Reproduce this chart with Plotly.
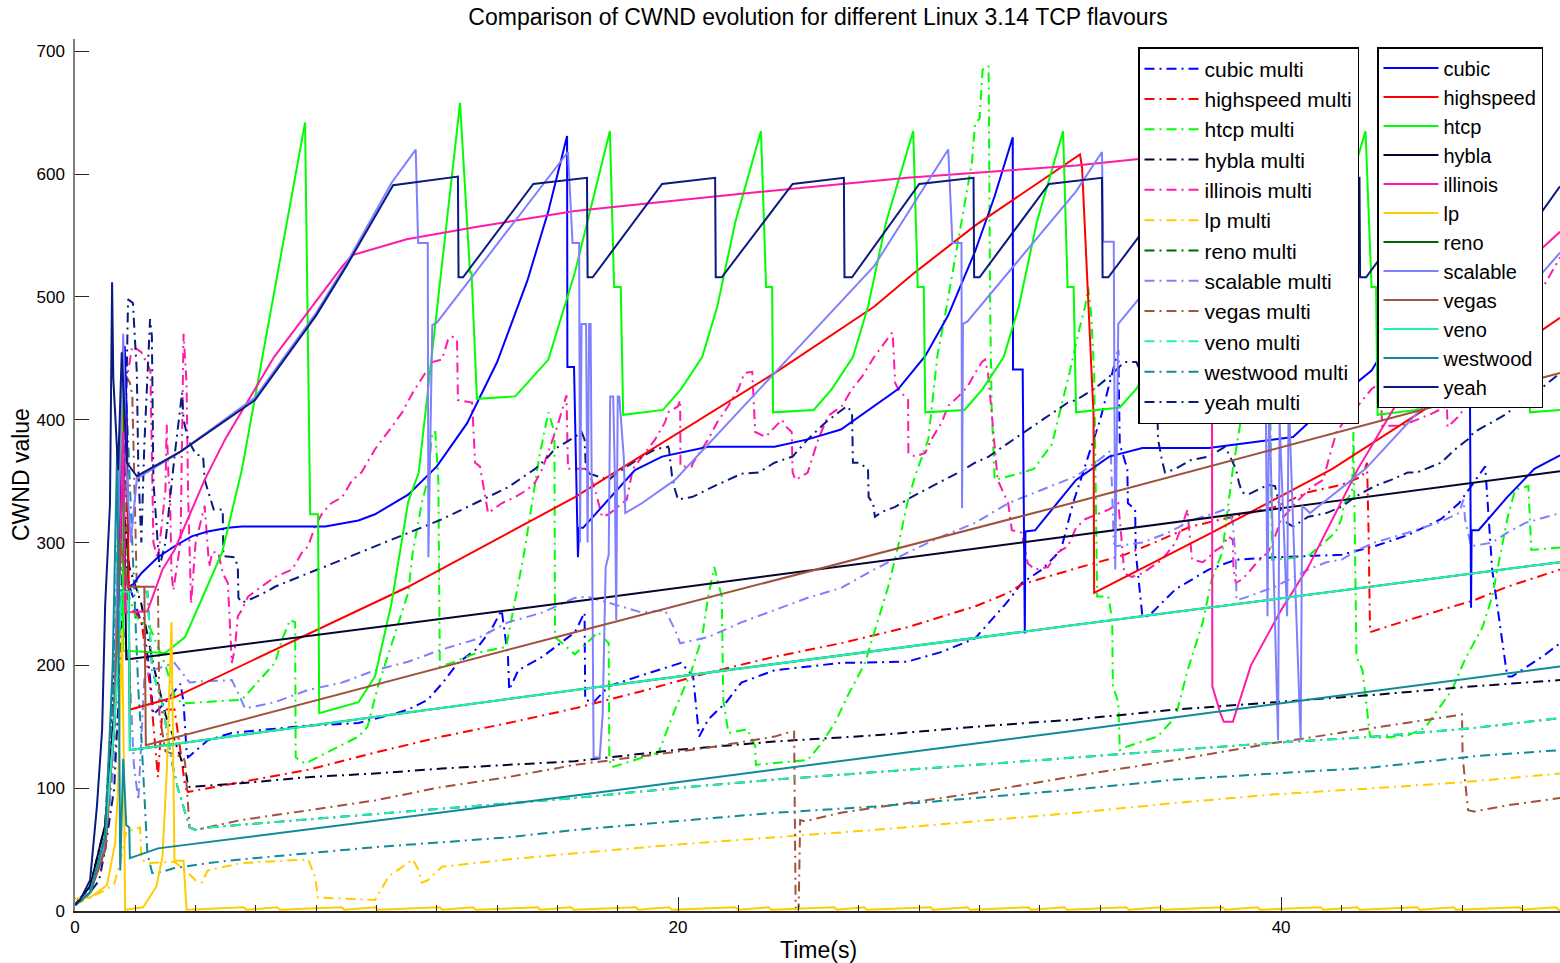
import plotly.graph_objects as go

NAMES = ["cubic", "highspeed", "htcp", "hybla", "illinois", "lp", "reno",
         "scalable", "vegas", "veno", "westwood", "yeah"]
COLORS = ["#0000FF", "#FF0000", "#00FF00", "#050530", "#FF1AAA", "#FFCC00",
          "#006400", "#8080FF", "#A0523C", "#20F0B8", "#108A9A", "#0A1A80"]

# ---------------- single-flow (solid) series: (time s, cwnd) ----------------
CUBIC = [(0,5),(0.5,15),(1.0,60),(1.3,160),(1.5,330),(1.65,460),(1.72,400),(1.77,264),(1.93,266),(2.2,275),
         (2.75,288),(3.3,297),(3.87,305),(4.4,309),(5.08,312),(5.53,313),(8.3,313),(9.4,318),(9.95,323),
         (11.05,339),(12.0,362),(13.0,397),(14.0,447),(15.0,513),(15.7,570),(16.32,631),(16.33,443),
         (16.55,443),(16.68,288),(16.72,312),(16.85,312),(18.57,359),(19.47,370),(21.0,378),(23.2,378),
         (24.3,384),(25.4,392),(26.5,411),(27.3,425),(28.2,452),(28.96,485),(29.85,537),(30.5,582),(31.1,630),
         (31.11,441),(31.43,441),(31.5,226),(31.52,309),(31.84,310),(33.2,351),(34.3,370),(35.4,377),(37.6,377),
         (40.4,386),(41.1,402),(43.0,440),(44.5,500),(45.5,565),(46.2,630),(46.21,441),(46.26,441),(46.3,247),
         (46.32,310),(46.55,310),(47.5,337),(48.4,360),(49.25,371)]
HIGHSPEED = [(0,5),(0.5,15),(1.0,50),(1.3,150),(1.5,300),(1.65,420),(1.75,330),(1.82,164),(3.3,174),(7.7,225),
             (11.05,264),(16.58,337),(23.2,438),(26.5,492),(27.86,520),(29.85,558),(33.2,614),(33.33,616),
             (33.4,605),(33.78,404),(33.8,259),(37.7,308),(41.7,360),(45.5,420),(49.25,483)]
HTCP = [(0,5),(0.5,15),(1.0,55),(1.3,150),(1.45,330),(1.55,434),(1.6,212),(2.99,210),(3.65,223),(4.88,292),
        (5.54,360),(7.63,642),(7.8,323),(8.06,323),(8.1,161),(9.4,170),(9.95,191),(10.5,251),(11.05,333),(11.4,357),
        (12.77,658),(13.1,520),(13.15,520),(13.33,417),(14.6,419),(15.7,449),(16.58,520),(17.74,635),(17.88,508),
        (18.1,508),(18.18,404),(19.5,408),(20.1,425),(20.8,451),(21.3,492),(21.9,561),(22.75,635),(22.92,508),
        (23.12,508),(23.15,406),(24.5,408),(25.1,425),(25.8,451),(26.3,492),(26.9,561),(27.8,635),(27.95,508),
        (28.15,508),(28.2,406),(29.5,408),(30.1,425),(30.8,451),(31.3,492),(31.9,561),(32.77,635),(32.92,508),
        (33.12,508),(33.2,406),(34.65,410),(35.2,425),(35.8,451),(36.3,492),(36.9,561),(37.8,635),(37.95,508),
        (38.15,508),(38.2,406),(39.5,408),(40.1,425),(40.8,451),(41.3,492),(41.9,561),(42.8,635),(43.0,508),
        (43.15,508),(43.2,404),(44.5,408),(45.1,425),(45.8,451),(46.3,492),(46.9,561),(47.9,635),(48.05,508),
        (48.2,508),(48.25,406),(49.25,408)]
HYBLA = [(0,5),(0.5,20),(1.0,70),(1.3,160),(1.5,300),(1.6,380),(1.7,205),(1.76,205),(16.58,252),(33.2,306),(49.25,358)]
ILLINOIS = [(0,5),(0.5,15),(1.0,55),(1.3,150),(1.5,300),(1.6,390),(1.66,243),(2.4,244),(2.9,278),(3.3,294),(4.3,351),
            (5.0,385),(6.6,451),(8.87,525),(9.2,534),(11.0,547),(13.3,557),(16.58,570),(22.1,584),(27.6,597),
            (33.2,607),(35.2,612),(37.7,616),(37.72,183),(38.0,160),(38.1,154),(38.4,154),(39.0,200),(40.0,245),
            (40.9,280),(42.55,360),(44.0,420),(46.0,480),(49.25,553)]
LP = [(0,10),(0.5,11),(1.06,21),(1.33,55),(1.43,100),(1.5,172),(1.56,230),(1.62,120),(1.66,1),(2.26,3),(2.7,20),
      (2.9,44),(3.05,117),(3.2,235),(3.3,41),(3.6,41),(3.7,1),(5.6,3),(5.68,1),(6.7,3),(6.79,1),(8.85,3),(8.93,1),
      (9.95,3),(10.04,1),(12.1,3),(12.18,1),(13.2,3),(13.29,1),(15.35,3),(15.43,1),(16.45,3),(16.54,1),(18.6,3),
      (18.68,1),(19.7,3),(19.79,1),(21.9,3),(21.99,1),(23.0,3),(23.1,1),(25.18,3),(25.26,1),(26.18,3),(26.26,1),
      (28.38,3),(28.46,1),(29.6,3),(29.68,1),(31.62,3),(31.7,1),(32.82,3),(32.9,1),(34.87,3),(34.95,1),(36.02,3),
      (36.1,1),(38.06,3),(38.14,1),(39.22,3),(39.3,1),(41.32,3),(41.4,1),(42.52,3),(42.6,1),(44.52,3),(44.6,1),
      (45.72,3),(45.8,1),(47.92,3),(47.98,1),(49.12,3),(49.2,1),(49.25,1.1)]
RENO = [(0,5),(0.5,15),(1.0,60),(1.3,150),(1.55,260),(1.78,260),(1.82,131),(16.58,180),(33.2,233),(49.25,284)]
SCALABLE = [(0,5),(0.5,15),(1.0,55),(1.3,150),(1.45,330),(1.6,470),(1.7,360),(1.85,300),(2.05,352),(3.5,374),
            (5.97,418),(8.0,487),(9.0,527),(10.5,593),(11.3,620),(11.38,544),(11.7,544),(11.72,288),
            (11.85,477),(12.0,479),(16.35,618),(16.5,544),(16.72,544),(16.75,300),(16.8,478),(16.95,478),(17.0,300),
            (17.05,478),(17.1,478),(17.2,125),(17.4,125),(17.5,160),(17.6,280),(17.7,290),(17.75,419),(17.85,419),
            (17.9,360),(17.95,237),(18.0,419),(18.05,419),(18.2,370),(18.25,324),(18.8,332),(19.9,351),(23.2,438),
            (26.5,525),(28.96,620),(29.1,544),(29.4,544),(29.42,328),(29.45,478),(29.6,480),(33.2,586),(34.06,618),
            (34.1,545),(34.45,545),(34.5,278),(34.6,478),(35.2,496),(37.0,550),(39.4,620),(39.45,545),(39.55,240),
            (39.6,420),(39.9,139),(39.95,400),(40.2,240),(40.25,420),(40.65,139),(40.7,330),(40.96,324),(42.8,360),
            (46.0,445),(49.25,536)]
VEGAS = [(0,5),(0.5,15),(1.0,50),(1.3,150),(1.5,300),(1.75,264),(2.3,264),(2.35,135),(16.58,227),(33.2,333),(49.25,438)]
VENO = [(0,5),(0.5,15),(1.0,60),(1.3,150),(1.55,260),(1.78,260),(1.82,131),(16.58,180),(33.2,233),(49.25,284)]
WESTWOOD = [(0,5),(0.5,15),(1.0,60),(1.25,200),(1.4,380),(1.5,33),(1.6,124),(1.7,70),(1.8,68),(1.82,43),(2.75,51),
            (16.58,94),(33.2,147),(49.25,199)]
YEAH = [(0,5),(0.17,9),(0.5,25),(0.73,86),(0.9,148),(1.0,249),(1.16,331),(1.23,512),(1.27,434),(1.43,359),
        (1.55,455),(1.72,365),(2.05,354),(3.5,374),(5.97,416),(8.0,485),(9.0,525),(10.55,591),(12.7,598),(12.72,516),
        (12.87,516),(15.2,592),(16.98,597),(17.0,516),(17.17,516),(19.47,592),(21.23,597),(21.25,516),(21.45,516),
        (23.8,592),(25.5,597),(25.52,516),(25.77,516),(28.0,592),(29.8,597),(29.82,516),(30.0,516),(32.3,592),
        (34.06,597),(34.08,516),(34.27,516),(36.6,592),(38.33,597),(38.35,516),(38.55,516),(40.85,592),(42.6,597),
        (42.62,516),(42.82,516),(45.1,592),(46.87,597),(46.89,516),(47.1,516),(49.25,590)]

# ---------------- multi-flow (dash-dot) series ----------------
CUBIC_MULTI = [(0,5),(0.5,15),(1.0,60),(1.4,200),(1.6,300),(1.8,265),(2.3,227),(2.45,200),(2.6,160),(3.0,170),
               (3.5,185),(3.6,170),(3.7,130),(3.75,125),(4.4,139),(5.2,145),(7.7,151),(9.4,153),(10.5,160),
               (11.05,164),(11.7,172),(12.2,186),(12.7,202),(13.3,213),(13.8,229),(14.15,245),(14.36,207),
               (14.4,180),(14.7,196),(15.5,207),(16.58,227),(16.9,243),(16.92,172),(17.2,170),(17.7,183),(18.8,192),
               (20.1,202),(20.5,191),(20.7,142),(21.0,156),(21.6,170),(22.1,186),(23.2,196),(25.4,202),(27.6,203),
               (28.75,211),(29.85,222),(30.5,240),(30.9,251),(31.4,267),(32.07,278),(32.7,294),(33.1,332),
               (33.6,370),(34.0,400),(34.6,457),(34.65,380),(34.9,360),(34.92,332),(35.16,327),(35.18,292),
               (35.4,240),(35.6,240),(36.5,262),(37.6,278),(38.5,286),(39.8,288),(42.0,290),(43.1,297),(44.2,306),
               (45.3,319),(45.9,332),(46.77,362),(47.0,278),(47.5,191),(47.66,191),(48.66,207),(49.25,218)]
HIGHSPEED_MULTI = [(0,5),(0.5,15),(1.0,60),(1.4,250),(1.65,380),(1.75,250),(2.2,237),(2.5,180),(2.75,109),
                   (2.9,164),(3.3,164),(3.5,130),(3.65,101),(3.75,97),(5.3,104),(7.73,115),(9.95,129),(12.17,142),
                   (14.36,153),(16.58,165),(18.8,179),(21.0,194),(23.2,207),(25.4,218),(27.6,231),(29.85,248),
                   (30.95,259),(31.4,266),(33.2,279),(34.8,290),(35.9,301),(37.0,313),(39.8,329),(40.9,341),
                   (42.0,347),(42.7,354),(42.85,365),(42.9,310),(42.95,227),(43.7,233),(45.3,245),(46.4,253),
                   (47.5,264),(49.25,278)]
HTCP_MULTI = [(0,5),(0.5,15),(1.0,60),(1.4,200),(1.6,380),(1.75,260),(2.0,240),(2.5,230),(3.0,200),(3.3,175),
              (3.55,169),(5.53,172),(6.63,202),(6.87,221),(7.13,237),(7.3,235),(7.32,125),(7.63,120),(9.4,142),
              (9.7,150),(10.05,183),(10.5,218),(11.05,259),(11.2,292),(11.5,332),(11.7,351),(11.85,390),
              (11.95,390),(12.05,351),(12.1,199),(12.5,202),(13.3,210),(14.3,215),(14.9,292),(15.4,370),
              (15.7,406),(15.9,390),(15.92,223),(16.58,209),(17.35,227),(17.7,218),(17.72,123),(17.8,117),
              (19.35,129),(19.9,164),(20.45,196),(20.8,223),(21.0,256),(21.2,280),(21.45,256),(21.5,172),
              (21.67,145),(22.3,148),(22.56,134),(22.58,119),(24.3,123),(24.77,137),(25.2,153),(25.6,174),
              (26.2,202),(26.5,227),(26.97,264),(27.3,297),(27.6,332),(27.86,354),(28.3,384),(28.6,452),
              (28.85,484),(29.3,547),(29.75,610),(29.85,642),(30.0,645),(30.1,685),(30.3,688),(30.35,492),
              (30.4,411),(30.5,351),(31.3,356),(31.8,360),(32.4,380),(33.0,440),(33.3,473),(33.5,492),(33.6,508),
              (33.7,487),(33.8,438),(33.9,256),(34.27,256),(34.4,237),(34.42,183),(34.6,170),(34.65,131),
              (34.9,134),(35.9,142),(36.5,158),(36.9,196),(37.4,235),(37.7,270),(38.05,292),(38.4,360),(38.8,420),
              (39.3,480),(39.6,500),(39.7,286),(39.8,286),(40.9,289),(41.8,308),(42.0,319),(42.1,332),(42.35,341),
              (42.4,390),(42.45,294),(42.5,207),(42.7,196),(42.8,174),(42.95,142),(43.35,141),(44.2,143),
              (44.77,149),(45.2,164),(45.67,180),(46.1,205),(46.68,231),(47.0,256),(47.33,297),(47.5,319),
              (47.76,343),(48.2,346),(48.3,294),(49.25,296)]
HYBLA_MULTI = [(0,5),(0.5,20),(1.0,70),(1.4,250),(1.6,330),(1.8,280),(2.2,250),(2.6,200),(3.0,160),(3.5,125),
               (3.7,110),(3.75,101),(5.5,104),(7.73,109),(9.95,112),(12.17,116),(14.36,119),(16.58,122),
               (19.9,131),(23.2,138),(26.5,143),(29.85,150),(33.2,156),(36.5,164),(39.8,170),(43.1,176),
               (46.4,183),(49.25,188)]
ILLINOIS_MULTI = [(0,5),(0.5,15),(1.0,55),(1.4,200),(1.7,430),(1.9,460),(2.2,455),(2.5,440),(2.6,300),(2.75,286),
                  (3.0,343),(3.04,396),(3.1,354),(3.15,341),(3.2,275),(3.26,261),(3.5,300),(3.6,470),(3.7,430),
                  (3.75,340),(3.85,250),(4.0,300),(4.3,330),(4.45,280),(4.55,292),(4.75,292),(4.9,275),
                  (5.07,267),(5.2,202),(5.3,213),(5.4,240),(5.53,245),(5.74,256),(6.2,264),(6.63,272),(7.2,278),
                  (7.53,292),(7.73,297),(7.96,313),(8.2,324),(8.5,332),(8.86,337),(9.2,351),(9.5,357),(9.7,365),
                  (9.95,376),(10.5,394),(10.85,406),(11.2,422),(11.6,438),(11.85,447),(12.17,449),(12.37,465),
                  (12.5,468),(12.67,465),(12.7,416),(13.17,414),(13.27,365),(13.43,362),(13.7,324),(14.15,332),
                  (14.6,337),(15.0,343),(15.26,349),(15.5,360),(16.0,395),(16.3,420),(16.35,360),(17.0,360),
                  (17.25,343),(17.48,321),(17.7,323),(18.0,329),(18.3,335),(18.5,360),(19.24,384),(19.57,398),
                  (19.67,406),(20.0,411),(20.07,416),(20.08,362),(20.46,362),(20.5,365),(21.0,384),(21.3,398),
                  (21.66,411),(22.0,425),(22.2,438),(22.46,439),(22.56,390),(22.9,386),(23.2,394),(23.44,400),
                  (23.6,394),(23.77,390),(23.8,357),(23.9,351),(24.3,357),(24.65,384),(24.97,403),(25.43,411),
                  (25.77,425),(26.1,435),(26.5,451),(26.77,460),(27.1,471),(27.13,465),(27.2,430),(27.3,425),
                  (27.63,416),(27.64,373),(27.86,370),(28.2,373),(28.4,384),(28.75,398),(28.95,411),(29.3,419),
                  (29.6,427),(29.85,438),(30.08,447),(30.18,449),(30.28,438),(30.4,406),(30.5,376),(30.6,351),
                  (30.95,332),(31.07,310),(31.4,308),(31.6,283),(31.84,278),(32.27,280),(32.6,292),(32.93,297),
                  (33.2,312),(33.5,319),(34.3,327),(34.6,332),(34.7,305),(34.8,275),(35.05,272),(35.4,275),
                  (36.05,286),(36.25,292),(36.5,300),(36.7,313),(36.8,321),(36.9,327),(36.93,316),(37.05,286),
                  (37.4,284),(37.6,288),(37.8,293),(38.05,297),(38.25,305),(38.4,302),(38.42,278),(38.5,267),
                  (38.7,270),(38.9,275),(39.2,284),(39.57,292),(39.8,305),(40.0,319),(40.2,324),(40.47,332),
                  (41.0,345),(41.4,351),(41.6,370),(41.84,390),(42.07,398),(42.5,410),(43.0,425),(43.3,430),
                  (43.35,395),(44.0,395),(45.0,405),(45.5,411),(45.52,394),(45.9,403),(46.5,425),(47.5,460),
                  (48.5,500),(49.25,532)]
LP_MULTI = [(0,5),(0.5,11),(0.83,15),(1.0,17),(1.3,22),(1.5,40),(1.7,65),(1.93,66),(2.16,68),(2.2,42),(2.4,39),
            (3.3,40),(3.65,33),(3.75,31),(4.0,25),(4.2,23),(4.4,33),(5.0,36),(5.5,39),(7.73,42),(7.96,28),
            (8.06,11),(9.95,9),(10.4,28),(10.85,36),(11.2,42),(11.4,33),(11.5,23),(11.7,25),(12.17,36),
            (13.27,39),(14.36,42),(16.58,47),(19.9,54),(23.2,60),(26.5,66),(29.85,73),(33.2,80),(36.5,88),
            (39.8,95),(43.1,100),(46.1,105),(49.25,112)]
RENO_MULTI = [(0,5),(0.5,15),(1.0,60),(1.4,200),(1.55,300),(1.66,260),(2.4,260),(2.56,196),(2.9,169),(3.2,123),
              (3.4,101),(3.65,80),(3.8,68),(4.0,66),(4.4,68),(16.58,92),(19.9,100),(23.2,107),(26.5,113),
              (29.85,119),(33.2,125),(36.5,131),(39.8,137),(43.1,142),(46.4,149),(49.25,157)]
SCALABLE_MULTI = [(0,5),(0.5,15),(1.0,50),(1.4,150),(1.6,230),(1.8,200),(1.95,120),(2.1,90),(2.2,140),(2.3,190),
                  (2.56,196),(2.9,199),(3.3,202),(3.65,191),(3.8,186),(4.2,187),(5.2,188),(5.4,178),(5.64,165),
                  (6.63,170),(7.73,180),(8.86,186),(9.95,196),(11.05,203),(12.17,213),(13.27,221),(14.36,235),
                  (15.5,243),(16.58,255),(17.0,256),(17.7,251),(18.8,243),(19.57,245),(19.9,229),(20.07,218),
                  (21.0,223),(22.1,235),(23.2,245),(24.3,255),(25.4,263),(26.5,278),(27.63,292),(28.75,305),
                  (29.85,316),(30.95,332),(32.07,343),(33.2,354),(34.0,368),(34.35,375),(34.45,300),(34.5,297),
                  (35.4,300),(36.25,308),(36.8,315),(37.15,319),(37.8,324),(38.25,328),(38.4,316),(38.5,284),
                  (38.52,253),(38.9,256),(39.8,264),(40.4,272),(40.9,278),(41.5,284),(42.0,286),(42.55,294),
                  (43.1,300),(44.2,308),(45.3,317),(45.9,324),(46.05,335),(46.1,319),(46.3,297),(47.0,300),
                  (47.5,308),(48.1,316),(49.25,324)]
VEGAS_MULTI = [(0,5),(0.5,15),(1.0,60),(1.4,220),(1.6,440),(1.82,430),(1.9,420),(2.0,300),(2.05,264),(2.75,264),
               (2.8,160),(3.0,130),(3.6,125),(3.65,121),(3.75,88),(3.8,68),(4.0,66),(4.4,68),(5.5,74),(7.73,82),
               (9.95,90),(12.17,101),(14.36,109),(16.58,119),(18.8,126),(21.0,133),(23.2,142),(23.6,145),
               (23.85,146),(23.9,2),(24.0,2),(24.05,74),(24.2,73),(25.4,80),(27.6,88),(29.85,96),(33.2,110),
               (36.5,123),(39.8,137),(43.1,149),(46.0,160),(46.02,126),(46.1,107),(46.2,82),(46.4,81),(47.5,86),
               (49.25,92)]
VENO_MULTI = [(0,5),(0.5,15),(1.0,60),(1.4,200),(1.55,300),(1.66,260),(2.4,260),(2.56,196),(2.9,169),(3.2,123),
              (3.4,101),(3.65,80),(3.8,68),(4.0,66),(4.4,68),(16.58,92),(19.9,100),(23.2,107),(26.5,113),
              (29.85,119),(33.2,125),(36.5,131),(39.8,137),(43.1,142),(46.4,149),(49.25,157)]
WESTWOOD_MULTI = [(0,5),(0.5,15),(1.0,60),(1.3,200),(1.5,380),(1.7,420),(1.9,300),(2.1,180),(2.2,142),(2.3,88),
                  (2.4,47),(2.56,31),(2.9,32),(3.3,35),(4.4,39),(5.5,42),(7.73,47),(9.95,52),(12.17,56),
                  (14.36,60),(16.58,66),(19.9,73),(23.2,80),(26.5,85),(29.85,92),(33.2,99),(36.5,107),
                  (39.8,112),(43.1,117),(46.4,126),(49.25,131)]
YEAH_MULTI = [(0,5),(0.4,12),(0.8,25),(1.0,50),(1.3,100),(1.5,200),(1.65,350),(1.76,498),(1.92,495),(2.05,439),
              (2.1,360),(2.2,300),(2.3,380),(2.49,482),(2.55,468),(2.6,350),(2.8,280),(3.0,300),(3.3,370),
              (3.55,422),(3.6,400),(3.75,384),(4.0,372),(4.25,370),(4.3,351),(4.6,327),(4.9,327),(4.92,289),
              (5.3,288),(5.4,280),(5.42,255),(5.53,251),(5.74,253),(6.2,258),(6.63,264),(7.2,270),(7.73,275),
              (8.86,286),(9.95,297),(11.05,308),(12.17,319),(13.27,332),(14.36,345),(15.26,360),(15.7,370),
              (15.9,376),(16.58,386),(16.8,390),(16.9,384),(16.95,357),(17.7,351),(18.0,357),(18.3,362),
              (18.8,370),(19.25,376),(19.67,378),(19.7,376),(19.8,354),(19.9,343),(20.0,335),(20.2,336),
              (20.46,337),(20.8,341),(21.2,346),(21.66,351),(22.1,356),(22.67,357),(23.2,365),(23.8,370),
              (24.3,384),(24.9,398),(25.43,408),(25.6,411),(25.77,406),(25.78,384),(25.8,365),(26.0,365),
              (26.3,360),(26.32,337),(26.47,332),(26.53,321),(26.77,325),(27.2,329),(27.6,335),(28.2,343),
              (28.75,350),(29.3,357),(29.85,365),(30.3,370),(30.95,381),(31.5,390),(32.07,400),(32.6,408),
              (32.93,414),(33.2,416),(33.8,425),(34.3,435),(34.8,447),(35.2,447),(35.5,430),(35.9,403),
              (35.92,384),(36.05,367),(36.15,357),(36.5,360),(37.0,367),(37.6,370),(38.15,378),(38.5,360),
              (38.6,349),(38.7,341),(38.9,339),(39.4,345),(39.57,347),(39.8,346),(39.9,335),(40.0,324),
              (40.2,316),(40.4,313),(40.9,321),(41.5,324),(42.0,329),(42.45,337),(43.1,346),(43.65,351),
              (44.2,357),(44.5,357),(45.3,365),(45.87,378),(46.2,384),(46.4,390),(47.0,398),(47.5,405),
              (48.2,422),(48.7,427),(49.25,438)]

SOLID = [CUBIC, HIGHSPEED, HTCP, HYBLA, ILLINOIS, LP, RENO, SCALABLE, VEGAS, VENO, WESTWOOD, YEAH]
MULTI = [CUBIC_MULTI, HIGHSPEED_MULTI, HTCP_MULTI, HYBLA_MULTI, ILLINOIS_MULTI, LP_MULTI, RENO_MULTI,
         SCALABLE_MULTI, VEGAS_MULTI, VENO_MULTI, WESTWOOD_MULTI, YEAH_MULTI]

TITLE = "Comparison of CWND evolution for different Linux 3.14 TCP flavours"
XLABEL = "Time(s)"
YLABEL = "CWND value"
FONT = "Liberation Sans, Arial, sans-serif"
DASHDOT = "10px,5px,2px,5px"

fig = go.Figure()
for name, color, data in zip(NAMES, COLORS, MULTI):
    fig.add_trace(go.Scatter(x=[p[0] for p in data], y=[p[1] for p in data], mode="lines",
                             name=name + " multi",
                             line=dict(color=color, width=2, dash=DASHDOT), legend="legend"))
for name, color, data in zip(NAMES, COLORS, SOLID):
    fig.add_trace(go.Scatter(x=[p[0] for p in data], y=[p[1] for p in data], mode="lines",
                             name=name, line=dict(color=color, width=2), legend="legend2"))

W, H = 1560, 963
L, R, T, B = 75, 0, 39, 52
pw, ph = W - L - R, H - T - B

def px_x(px):
    return (px - L) / pw

def px_y(py):
    return (H - B - py) / ph

def legend_style(size):
    return dict(bgcolor="white", bordercolor="black", borderwidth=1.5,
                font=dict(family=FONT, size=size, color="black"),
                xanchor="left", yanchor="top", tracegroupgap=0, itemwidth=55)

fig.update_layout(
    width=W, height=H,
    margin=dict(l=L, r=R, t=T, b=B, autoexpand=False),
    paper_bgcolor="white", plot_bgcolor="white",
    font=dict(family=FONT, color="black"),
    title=dict(text=TITLE, x=px_x(818), xref="paper", xanchor="center",
               y=1 - 17 / H, yref="container", yanchor="middle",
               font=dict(family=FONT, size=23, color="black")),
    showlegend=True,
    legend=dict(x=px_x(1138), y=px_y(47), **legend_style(21)),
    legend2=dict(x=px_x(1377), y=px_y(47), **legend_style(20)),
    xaxis=dict(range=[0, 49.25], showgrid=False, zeroline=False, showline=True, automargin=False,
               linecolor="#262626", linewidth=1.5, ticks="inside", ticklen=14, tickwidth=1,
               tickcolor="#262626", tickvals=[0, 20, 40], ticktext=["0", "20", "40"],
               tickfont=dict(family=FONT, size=17, color="black"),
               minor=dict(ticks="inside", ticklen=6, tickcolor="#262626", dtick=2, tick0=0)),
    yaxis=dict(range=[0, 710], showgrid=False, zeroline=False, showline=True, automargin=False,
               linecolor="#7f7f7f", linewidth=1.5, ticks="inside", ticklen=14, tickwidth=1,
               tickcolor="#262626", tickvals=[0, 100, 200, 300, 400, 500, 600, 700],
               ticklabelstandoff=5,
               tickfont=dict(family=FONT, size=17, color="black")),
    annotations=[
        dict(text=XLABEL, xref="paper", yref="paper", x=px_x(818), y=px_y(950),
             xanchor="center", yanchor="middle", showarrow=False,
             font=dict(family=FONT, size=23, color="black")),
        dict(text=YLABEL, xref="paper", yref="paper", x=px_x(21), y=px_y(475),
             xanchor="center", yanchor="middle", showarrow=False, textangle=-90,
             font=dict(family=FONT, size=23, color="black")),
    ],
)

fig.write_html("out.html", config={"displayModeBar": False},
               post_script="document.body.style.margin='0';document.body.style.padding='0';")
